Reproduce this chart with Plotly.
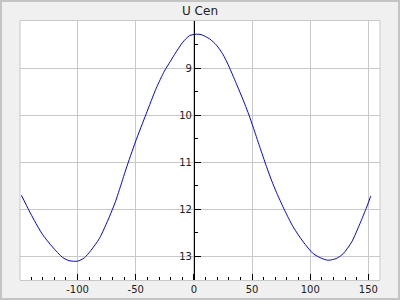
import plotly.graph_objects as go

# Phase / days and magnitude
x_vals = [-148.3, -141.6, -137.3, -130.2, -121.5, -112.9, -107.2, -100.0, -94.2, -88.5,
          -81.3, -72.7, -67.5, -64.0, -58.3, -50.3, -41.0, -32.4, -25.3, -20.3,
          -16.6, -9.5, -3.7, 2.0, 6.4, 13.5, 19.3, 25.0, 29.3, 36.5,
          43.7, 47.4, 50.9, 56.6, 62.4, 67.0, 71.0, 75.0, 78.2, 85.3,
          94.0, 102.6, 109.8, 115.5, 122.8, 128.4, 135.7, 142.8, 148.6, 152.0]
mag_vals = [11.70, 12.03, 12.23, 12.53, 12.80, 13.02, 13.09, 13.10, 13.03, 12.87,
            12.62, 12.16, 11.84, 11.58, 11.14, 10.57, 9.97, 9.43, 9.06, 8.86,
            8.71, 8.45, 8.31, 8.28, 8.29, 8.38, 8.51, 8.71, 8.92, 9.33,
            9.76, 10.00, 10.25, 10.67, 11.09, 11.40, 11.64, 11.86, 12.03, 12.37,
            12.69, 12.94, 13.04, 13.08, 13.04, 12.94, 12.69, 12.30, 11.95, 11.72]

x_ticks = [-100, -50, 0, 50, 100, 150]
x_tick_labels = ["-100", "-50", "0", "50", "100", "150"]
y_ticks = [9, 10, 11, 12, 13]
y_tick_labels = ["9", "10", "11", "12", "13"]

x_range = [-149.5, 160]
y_range = [13.5, 8.0]
grid = "#c8c8c8"

fig = go.Figure()
fig.add_trace(go.Scatter(x=x_vals, y=mag_vals, mode="lines",
                         line=dict(color="#0000ff", width=1, shape="spline", smoothing=0.7),
                         showlegend=False, hoverinfo="skip"))

fig.update_layout(
    width=400, height=300,
    margin=dict(l=20, r=20, t=21, b=20, autoexpand=False),
    paper_bgcolor="#f0f0f0", plot_bgcolor="#ffffff",
    font=dict(family="DejaVu Sans", size=10, color="#202020"),
    title=dict(text="U Cen", x=0.5, xanchor="center", y=0.963, yanchor="middle",
               font=dict(family="DejaVu Sans", size=12, color="#202020")),
    xaxis=dict(range=x_range, tickmode="array", tickvals=x_ticks, ticktext=x_tick_labels,
               automargin=False,
               ticks="inside", ticklen=6, tickcolor="#000000", tickwidth=1,
               showgrid=True, gridcolor=grid, gridwidth=1, zeroline=False,
               showline=True, linecolor=grid, linewidth=1, mirror=True,
               minor=dict(dtick=10, ticks="inside", ticklen=3, tickcolor="#000000",
                          showgrid=False),
               tickfont=dict(size=10, color="#202020")),
    yaxis=dict(range=y_range, tickmode="array", tickvals=y_ticks, ticktext=y_tick_labels,
               automargin=False,
               anchor="free", position=(0 - x_range[0]) / (x_range[1] - x_range[0]),
               ticks="inside", ticklen=6, tickcolor="#000000", tickwidth=1,
               showgrid=True, gridcolor=grid, gridwidth=1, zeroline=False,
               showline=True, linecolor="#000000", linewidth=1,
               minor=dict(dtick=0.5, ticks="inside", ticklen=3, tickcolor="#000000",
                          showgrid=False),
               tickfont=dict(size=10, color="#202020")),
    shapes=[
        dict(type="line", xref="paper", yref="paper", x0=0, x1=0, y0=0, y1=1,
             line=dict(color=grid, width=1), layer="below"),
        dict(type="line", xref="paper", yref="paper", x0=1, x1=1, y0=0, y1=1,
             line=dict(color=grid, width=1), layer="below"),
        dict(type="rect", xref="paper", yref="paper",
             x0=-20 / 360 + 1 / 360, x1=1 + 20 / 360 - 1 / 360,
             y0=-20 / 259 + 1 / 259, y1=1 + 21 / 259 - 1 / 259,
             line=dict(color="#c4c4c4", width=2)),
    ],
)

fig.write_html("out.html")
